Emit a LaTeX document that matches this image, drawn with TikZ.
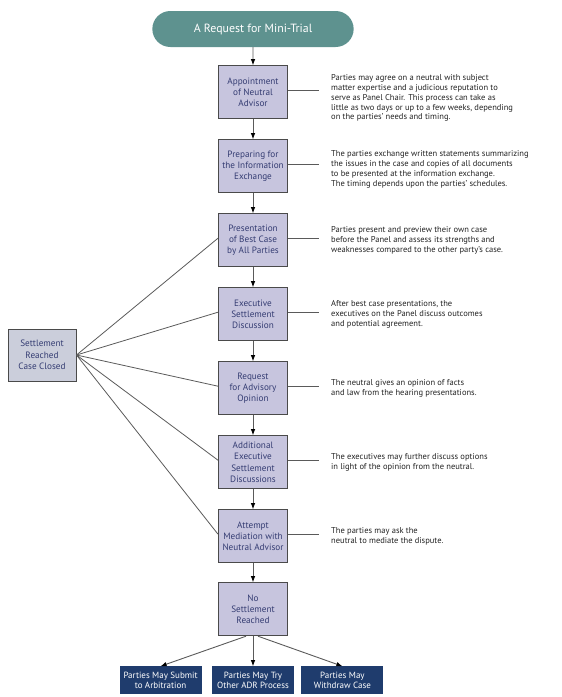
\documentclass[tikz,border=0pt]{standalone}
\usepackage{fontspec}
\setmainfont{PT Sans}
\usetikzlibrary{positioning,arrows.meta,shapes.misc}

\definecolor{pillteal}{HTML}{5E928F}
\definecolor{boxfill}{HTML}{C7C5DE}
\definecolor{setfill}{HTML}{CBCEDB}
\definecolor{boxline}{HTML}{4A4A4A}
\definecolor{boxtext}{HTML}{343C72}
\definecolor{navy}{HTML}{1F3C6D}
\definecolor{linegray}{HTML}{5A5A5A}
\definecolor{notetext}{HTML}{222222}

\begin{document}
\begin{tikzpicture}[x=1pt,y=-1pt,node distance=20pt,
  stage/.style={draw=boxline,line width=1pt,fill=boxfill,text=boxtext,
    minimum width=69pt,minimum height=53pt,align=center,inner sep=1pt,
    font=\fontsize{9.2}{11.3}\selectfont},
  note/.style={align=left,inner sep=0pt,text=notetext,
    font=\fontsize{8.5}{9.8}\selectfont},
  outcome/.style={fill=navy,text=white,minimum width=82pt,minimum height=28pt,
    align=center,inner sep=1pt,font=\fontsize{9}{10.8}\selectfont},
  flow/.style={draw=linegray,line width=0.9pt,-{Latex[length=6pt,width=4.5pt,black]}},
  link/.style={draw=linegray,line width=0.8pt}]
  \useasboundingbox (0,0) rectangle (562,697);

  % main chain
  \node[rounded rectangle,fill=pillteal,text=white,minimum width=208pt,
    minimum height=36pt,font=\fontsize{11.9}{14}\selectfont] (start) at (253,29)
    {A Request for Mini-Trial};
  \node[stage,below=18pt of start] (appoint) {Appointment\\of Neutral\\Advisor};
  \node[stage,below=of appoint] (prep) {Preparing for\\the Information\\Exchange};
  \node[stage,below=of prep] (pres) {Presentation\\of Best Case\\by All Parties};
  \node[stage,below=of pres] (exec) {Executive\\Settlement\\Discussion};
  \node[stage,below=of exec] (advis) {Request\\for Advisory\\Opinion};
  \node[stage,below=of advis] (addl) {Additional\\Executive\\Settlement\\Discussions};
  \node[stage,below=of addl] (mediate) {Attempt\\Mediation with\\Neutral Advisor};
  \node[stage,below=19pt of mediate] (noset) {No\\Settlement\\Reached};

  \node[stage,fill=setfill,minimum width=68pt,minimum height=52pt] (settle) at (42,355)
    {Settlement\\Reached\\Case Closed};

  % outcomes
  \node[outcome,below=30pt of noset] (adr) {Parties May Try\\Other ADR Process};
  \node[outcome,left=10pt of adr] (arb) {Parties May Submit\\to Arbitration};
  \node[outcome,right=7pt of adr] (withdraw) {Parties May\\Withdraw Case};

  % notes
  \node[note,right=43pt of appoint,yshift=-6pt] (appoint-txt)
    {Parties may agree on a neutral with subject\\matter expertise and a judicious reputation to\\serve as Panel Chair. This process can take as\\little as two days or up to a few weeks, depending\\on the parties’ needs and timing.};
  \node[note,right=43pt of prep,yshift=-3pt] (prep-txt)
    {The parties exchange written statements summarizing\\the issues in the case and copies of all documents\\to be presented at the information exchange.\\The timing depends upon the parties’ schedules.};
  \node[note,right=43pt of pres] (pres-txt)
    {Parties present and preview their own case\\before the Panel and assess its strengths and\\weaknesses compared to the other party’s case.};
  \node[note,right=43pt of exec] (exec-txt)
    {After best case presentations, the\\executives on the Panel discuss outcomes\\and potential agreement.};
  \node[note,right=43pt of advis] (advis-txt)
    {The neutral gives an opinion of facts\\and law from the hearing presentations.};
  \node[note,right=43pt of addl] (addl-txt)
    {The executives may further discuss options\\in light of the opinion from the neutral.};
  \node[note,right=43pt of mediate] (mediate-txt)
    {The parties may ask the\\neutral to mediate the dispute.};

  % connectors
  \draw[flow] (start) -- (appoint);
  \foreach \a/\b in {appoint/prep,prep/pres,pres/exec,exec/advis,advis/addl,addl/mediate,mediate/noset}
    \draw[flow] (\a) -- (\b);
  \draw[flow] ([xshift=-7pt]noset.south) -- (arb.north);
  \draw[flow] (noset) -- (adr);
  \draw[flow] ([xshift=5pt]noset.south) -- (withdraw.north);

  \foreach \s in {pres,exec,advis,addl,mediate}
    \draw[link] (settle.east) -- ([yshift=2pt]\s.west);

  \foreach \s in {appoint,prep,pres,exec,advis,addl,mediate}
    \draw[link,shorten >=12pt] ([yshift=2pt]\s.east) -- ([yshift=2pt]\s.east -| \s-txt.west);
\end{tikzpicture}
\end{document}
